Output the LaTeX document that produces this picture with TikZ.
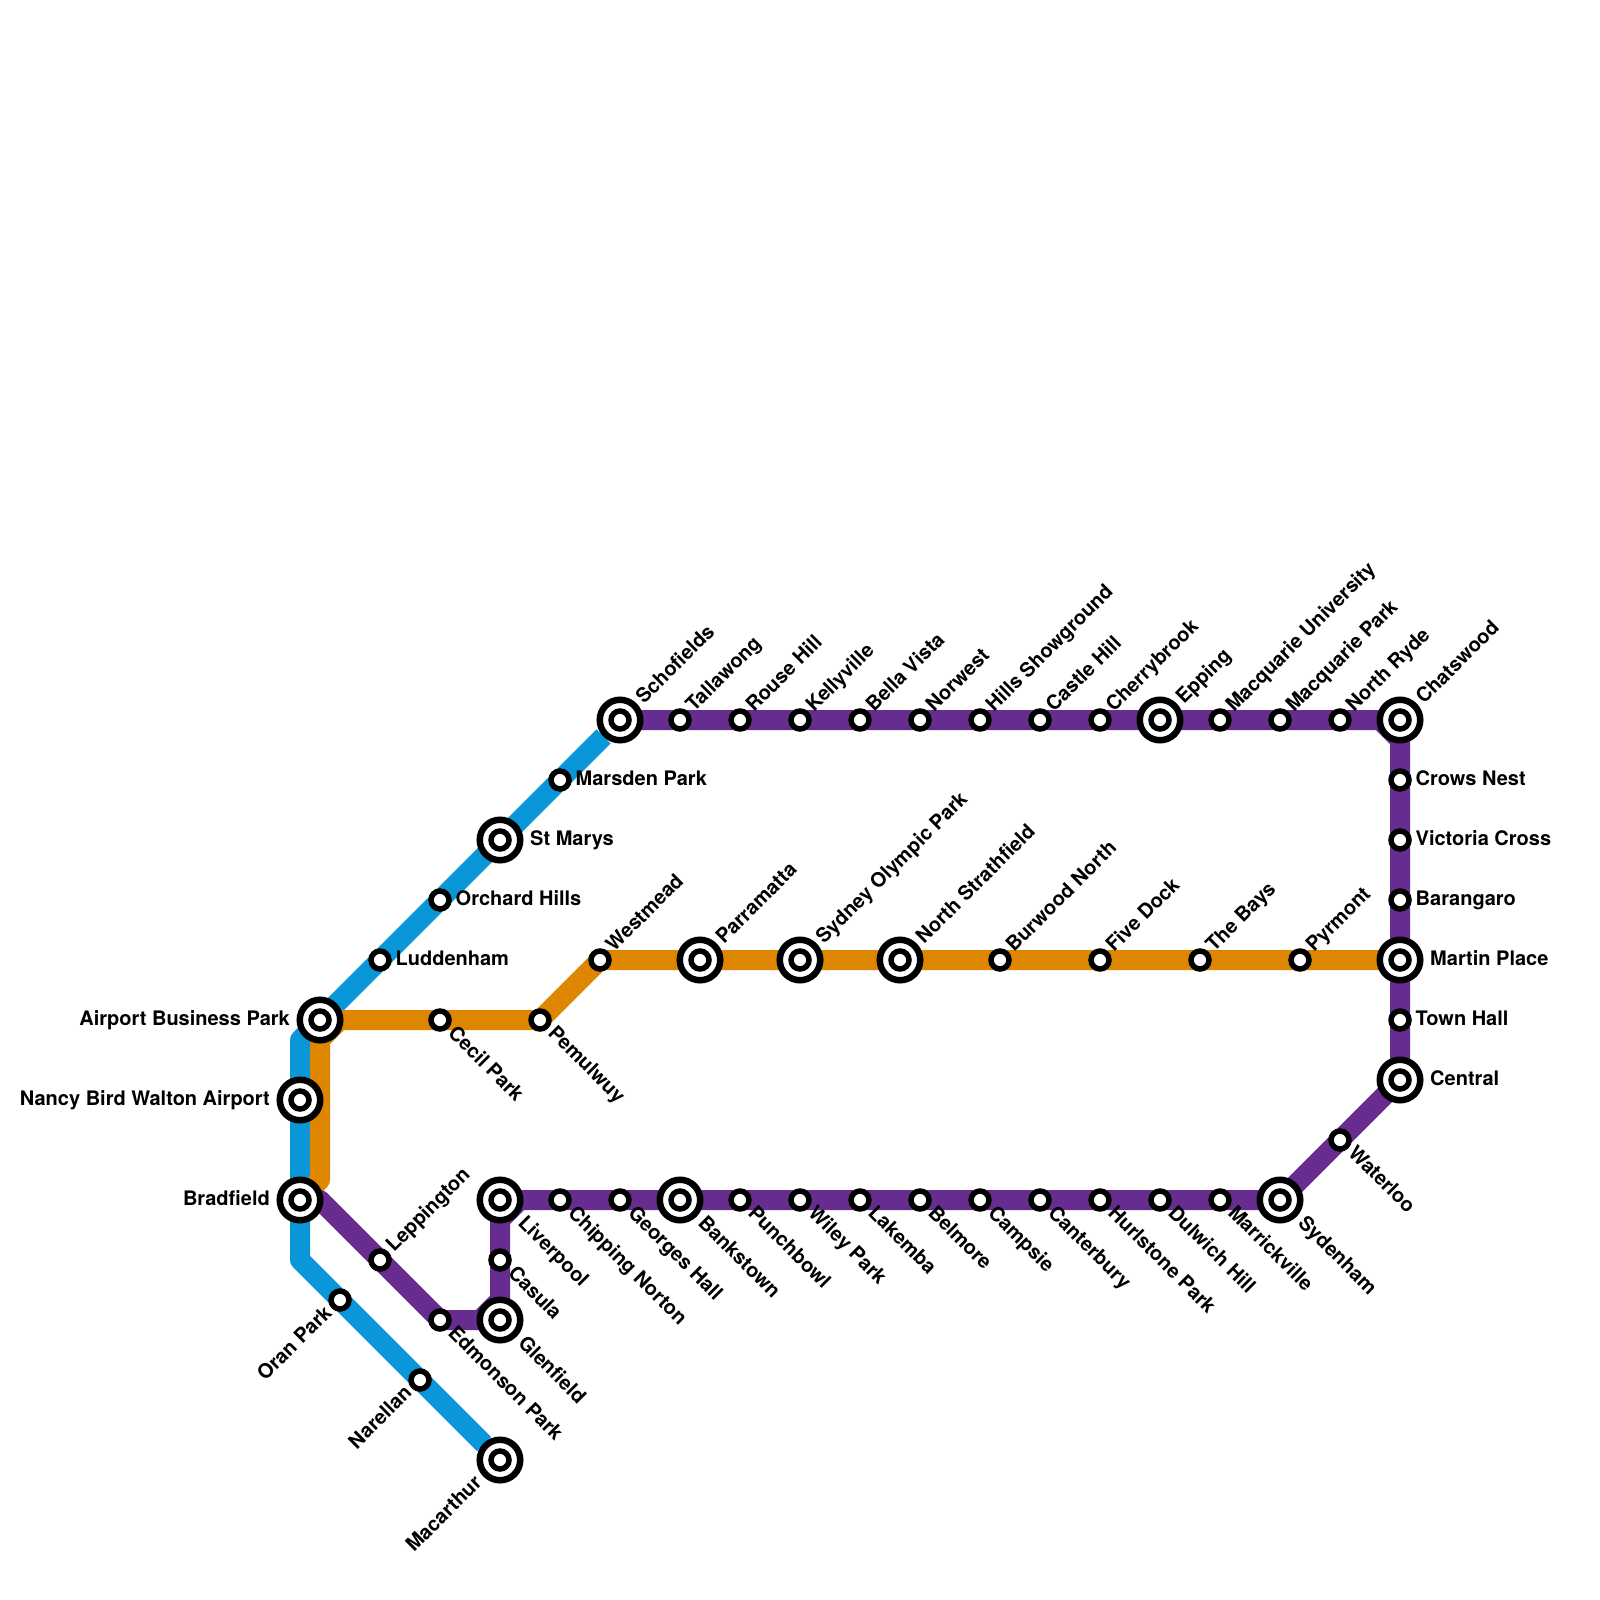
\documentclass[tikz,border=0pt]{standalone}
\usepackage{fontspec}
\setmainfont{TeX Gyre Heros}
\usetikzlibrary{backgrounds}
\definecolor{lblue}{HTML}{0A97D9}
\definecolor{lorange}{HTML}{DF8600}
\definecolor{lpurple}{HTML}{662C90}
\tikzset{
  metro/.style={line width=20pt,line join=round,line cap=round},
  st/.style={circle,draw=black,fill=white,line width=5.5pt,minimum size=18pt,inner sep=0pt},
  bigst/.style={circle,draw=black,fill=white,line width=6.5pt,minimum size=40.5pt,inner sep=0pt,
    path picture={\draw[line width=5.5pt,black] (path picture bounding box.center) circle (9pt);}},
  lab/.style={font=\bfseries\fontsize{20pt}{22pt}\selectfont,inner sep=0pt,text=black},
}
\newcommand{\mkst}[5]{%
  \node[#1] (#2) at (#3) {};
  \ifcase#4\relax
    \node[lab,rotate=45,anchor=base west] (#2t) at ([shift={(14,-7)}]#2.center) {#5};
  \or
    \node[lab,rotate=-45,anchor=base west] (#2t) at ([shift={(7,14)}]#2.center) {#5};
  \or
    \node[lab,anchor=base west] (#2t) at ([shift={(15.5,5)}]#2.center) {#5};
  \or
    \node[lab,rotate=45,anchor=base east] (#2t) at ([shift={(-7,14)}]#2.center) {#5};
  \or
    \node[lab,anchor=base east] (#2t) at ([shift={(-16,5)}]#2.center) {#5};
  \or
    \node[lab,rotate=45,anchor=base west] (#2t) at ([shift={(24,-15)}]#2.center) {#5};
  \or
    \node[lab,rotate=-45,anchor=base west] (#2t) at ([shift={(17,24)}]#2.center) {#5};
  \or
    \node[lab,anchor=base west] (#2t) at ([shift={(30,5)}]#2.center) {#5};
  \or
    \node[lab,rotate=45,anchor=base east] (#2t) at ([shift={(-17,24)}]#2.center) {#5};
  \or
    \node[lab,anchor=base east] (#2t) at ([shift={(-30,5)}]#2.center) {#5};
  \fi}
\begin{document}
\begin{tikzpicture}[x=1pt,y=-1pt]
\useasboundingbox (0,0) rectangle (1600,1600);
% top row
\mkst{bigst}{schofields}{620,720}{5}{Schofields}
\mkst{st}{tallawong}{680,720}{0}{Tallawong}
\mkst{st}{rouse}{740,720}{0}{Rouse Hill}
\mkst{st}{kelly}{800,720}{0}{Kellyville}
\mkst{st}{bella}{860,720}{0}{Bella Vista}
\mkst{st}{norwest}{920,720}{0}{Norwest}
\mkst{st}{hills}{980,720}{0}{Hills Showground}
\mkst{st}{castle}{1040,720}{0}{Castle Hill}
\mkst{st}{cherry}{1100,720}{0}{Cherrybrook}
\mkst{bigst}{epping}{1160,720}{5}{Epping}
\mkst{st}{mqu}{1220,720}{0}{Macquarie University}
\mkst{st}{mqp}{1280,720}{0}{Macquarie Park}
\mkst{st}{nryde}{1340,720}{0}{North Ryde}
\mkst{bigst}{chats}{1400,720}{5}{Chatswood}
% right column
\mkst{st}{crows}{1400,780}{2}{Crows Nest}
\mkst{st}{vic}{1400,840}{2}{Victoria Cross}
\mkst{st}{bara}{1400,900}{2}{Barangaro}
\mkst{bigst}{martin}{1400,960}{7}{Martin Place}
\mkst{st}{town}{1400,1020}{2}{Town Hall}
\mkst{bigst}{central}{1400,1080}{7}{Central}
\mkst{st}{waterloo}{1340,1140}{1}{Waterloo}
\mkst{bigst}{syd}{1280,1200}{6}{Sydenham}
% bottom row
\mkst{st}{marrick}{1220,1200}{1}{Marrickville}
\mkst{st}{dulwich}{1160,1200}{1}{Dulwich Hill}
\mkst{st}{hurl}{1100,1200}{1}{Hurlstone Park}
\mkst{st}{cant}{1040,1200}{1}{Canterbury}
\mkst{st}{camp}{980,1200}{1}{Campsie}
\mkst{st}{bel}{920,1200}{1}{Belmore}
\mkst{st}{lak}{860,1200}{1}{Lakemba}
\mkst{st}{wiley}{800,1200}{1}{Wiley Park}
\mkst{st}{punch}{740,1200}{1}{Punchbowl}
\mkst{bigst}{banks}{680,1200}{6}{Bankstown}
\mkst{st}{george}{620,1200}{1}{Georges Hall}
\mkst{st}{chip}{560,1200}{1}{Chipping Norton}
\mkst{bigst}{liver}{500,1200}{6}{Liverpool}
\mkst{st}{casula}{500,1260}{1}{Casula}
\mkst{bigst}{glen}{500,1320}{6}{Glenfield}
\mkst{st}{edmon}{440,1320}{1}{Edmonson Park}
\mkst{st}{lepp}{380,1260}{0}{Leppington}
% blue
\mkst{st}{marsden}{560,780}{2}{Marsden Park}
\mkst{bigst}{marys}{500,840}{7}{St Marys}
\mkst{st}{orchard}{440,900}{2}{Orchard Hills}
\mkst{st}{ludd}{380,960}{2}{Luddenham}
\mkst{bigst}{abp}{320,1020}{9}{Airport Business Park}
\mkst{bigst}{nancy}{300,1100}{9}{Nancy Bird Walton Airport}
\mkst{bigst}{brad}{300,1200}{9}{Bradfield}
\mkst{st}{oran}{340,1300}{3}{Oran Park}
\mkst{st}{nar}{420,1380}{3}{Narellan}
\mkst{bigst}{mac}{500,1460}{8}{Macarthur}
% orange
\mkst{st}{cecil}{440,1020}{1}{Cecil Park}
\mkst{st}{pem}{540,1020}{1}{Pemulwuy}
\mkst{st}{west}{600,960}{0}{Westmead}
\mkst{bigst}{parra}{700,960}{5}{Parramatta}
\mkst{bigst}{olym}{800,960}{5}{Sydney Olympic Park}
\mkst{bigst}{nstr}{900,960}{5}{North Strathfield}
\mkst{st}{burw}{1000,960}{0}{Burwood North}
\mkst{st}{five}{1100,960}{0}{Five Dock}
\mkst{st}{bays}{1200,960}{0}{The Bays}
\mkst{st}{pyr}{1300,960}{0}{Pyrmont}
% bends
\coordinate (bS) at (603.5,736.5);
\coordinate (bA) at (300,1040);
\coordinate (bB) at (300,1260);
\coordinate (bE) at (484,1444);
\coordinate (oA) at (340,1020);
\coordinate (oB) at (320,1040);
\coordinate (oC) at (320,1180);
\coordinate (pA) at (1380,720);
\coordinate (pB) at (1400,740);
\coordinate (pC) at (320,1200);
\coordinate (pD) at (500,1300);
\coordinate (pE) at (480,1320);
\coordinate (pF) at (500,1220);
\coordinate (pG) at (520,1200);
\begin{scope}[on background layer]
\fill[white] (0,0) rectangle (1600,1600);
\draw[metro,lblue,line cap=butt] (bS) -- (abp.center) -- (bA) -- (bB) -- (bE);
\draw[metro,lorange] (martin.center) -- (west.center) -- (pem.center) -- (oA) -- (oB) -- (oC) -- (brad.center);
\draw[metro,lpurple] (schofields.center) -- (pA) -- (pB) -- (central.center) -- (syd.center) -- (pG) -- (pF) -- (pD) -- (pE) -- (edmon.center) -- (pC);
\end{scope}
\end{tikzpicture}
\end{document}
